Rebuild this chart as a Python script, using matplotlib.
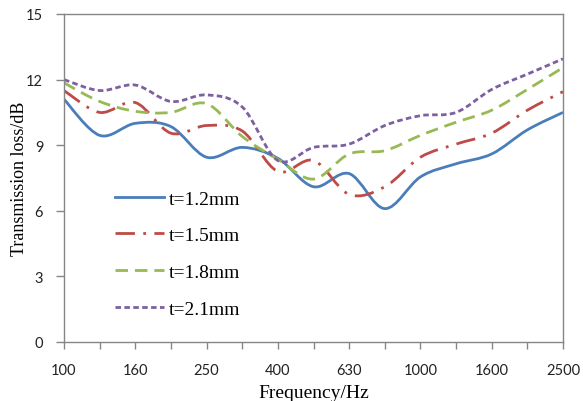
import numpy as np
import matplotlib as mpl
mpl.use('Agg')
import matplotlib.pyplot as plt
from matplotlib.path import Path
from matplotlib.patches import PathPatch
from matplotlib.lines import Line2D

# data (1/3 octave bands)
freqs = ['100', '125', '160', '200', '250', '315', '400', '500', '630',
         '800', '1000', '1250', '1600', '2000', '2500']
t12 = [11.1, 9.45, 10.0, 9.85, 8.45, 8.9, 8.4, 7.1, 7.7, 6.1, 7.55, 8.15, 8.6, 9.7, 10.5]
t15 = [11.5, 10.5, 10.95, 9.55, 9.9, 9.65, 7.8, 8.3, 6.75, 7.1, 8.45, 9.05, 9.55, 10.6, 11.45]
t18 = [11.85, 11.0, 10.55, 10.5, 10.9, 9.4, 8.35, 7.45, 8.6, 8.75, 9.45, 10.05, 10.6, 11.55, 12.55]
t21 = [12.0, 11.5, 11.75, 11.0, 11.3, 10.75, 8.3, 8.9, 9.05, 9.9, 10.35, 10.5, 11.55, 12.25, 12.95]
labels = ['t=1.2mm', 't=1.5mm', 't=1.8mm', 't=2.1mm']

colors = ['#4a7ebb', '#be4b48', '#98b954', '#7d60a0']
styles = ['-', (0, (7, 3, 1, 3)), (0, (4.5, 2.5)), (0, (2.0, 1.2))]
LW = 2.0

SERIF = 'Liberation Serif'
SANS = 'Lato'


def smooth_path(y):
    # excel-like smoothed line: cubic bezier through the points
    x = np.arange(len(y), dtype=float)
    y = np.asarray(y, dtype=float)
    n = len(y)
    verts = [(x[0], y[0])]
    codes = [Path.MOVETO]
    for i in range(n - 1):
        i0 = max(i - 1, 0)
        i3 = min(i + 2, n - 1)
        c1 = (x[i] + (x[i + 1] - x[i0]) / 6., y[i] + (y[i + 1] - y[i0]) / 6.)
        c2 = (x[i + 1] - (x[i3] - x[i]) / 6., y[i + 1] - (y[i3] - y[i]) / 6.)
        verts += [c1, c2, (x[i + 1], y[i + 1])]
        codes += [Path.CURVE4] * 3
    return Path(verts, codes)


fig = plt.figure(figsize=(5.83, 4.02), dpi=100)
ax = fig.add_axes([64 / 583., 1 - 343 / 402., 499 / 583., 328 / 402.])

handles = []
for ys, c, ls, lab in zip([t12, t15, t18, t21], colors, styles, labels):
    patch = PathPatch(smooth_path(ys), facecolor='none', edgecolor=c,
                      linewidth=LW, linestyle=ls, capstyle='butt')
    ax.add_patch(patch)
    handles.append(Line2D([], [], color=c, linewidth=LW, linestyle=ls,
                          label=lab))

ax.set_xlim(0, len(freqs) - 1)
ax.set_ylim(0, 15)
ax.set_xticks(range(len(freqs)))
ax.set_xticklabels([f if i % 2 == 0 else '' for i, f in enumerate(freqs)],
                   family=SANS, fontsize=10.5, color='#222222')
ax.set_yticks(range(0, 16, 3))
ax.set_yticklabels([str(v) for v in range(0, 16, 3)],
                   family=SANS, fontsize=10.5, color='#222222')
ax.tick_params(axis='x', direction='out', length=5, width=1,
               color='#868686', pad=10)
ax.tick_params(axis='y', direction='out', length=6, width=1,
               color='#868686', pad=9)

for s in ax.spines.values():
    s.set_color('#868686')
    s.set_linewidth(1.0)

ax.set_xlabel('Frequency/Hz', family=SERIF, fontsize=14)
ax.xaxis.set_label_coords(0.5, -0.128)
ax.set_ylabel('Transmission loss/dB', family=SERIF, fontsize=13)
ax.yaxis.set_label_coords(-0.073, 0.5)

ax.legend(handles=handles, loc='upper left',
          bbox_to_anchor=((115 - 64) / 499., (343 - 191) / 328.),
          frameon=False, prop={'family': SERIF, 'size': 14},
          handlelength=2.5, handletextpad=0.25, labelspacing=0.98,
          borderpad=0.0, borderaxespad=0.0)

fig.savefig('out.png', dpi=100)
